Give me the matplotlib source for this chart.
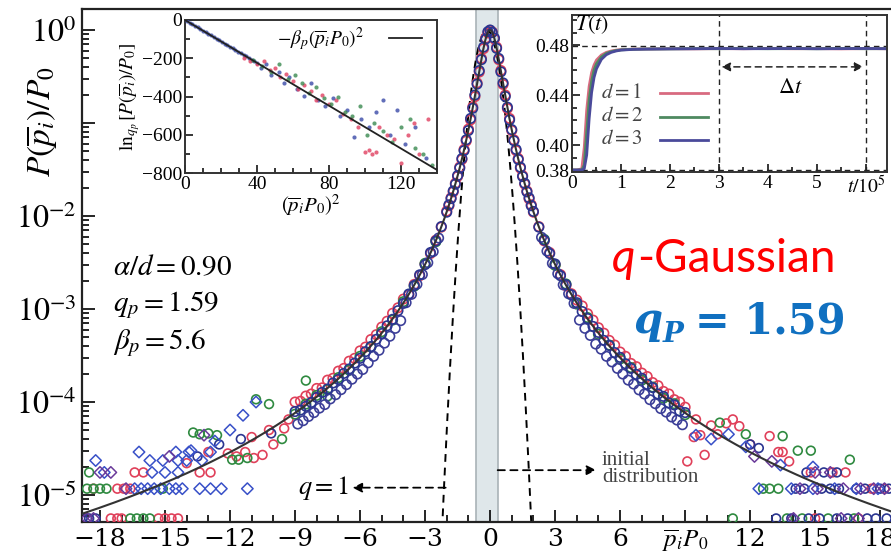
import numpy as np
import matplotlib
matplotlib.use("Agg")
import matplotlib.pyplot as plt
from matplotlib.ticker import FixedLocator, MultipleLocator, NullFormatter, FixedFormatter

plt.rcParams['font.family'] = ['Liberation Serif', 'DejaVu Serif']
plt.rcParams['mathtext.fontset'] = 'stix'

# ---------------- data ----------------
q_p = 1.59
beta_p = 5.6
gauss_beta = 2.9
gauss_center = -0.15
init_lo, init_hi = -0.65, 0.35

core_x = [-9, -8.75, -8.5, -8.25, -8, -7.75, -7.5, -7.25, -7, -6.75, -6.5, -6.25, -6, -5.75,
          -5.5, -5.25, -5, -4.75, -4.5, -4.25, -4, -3.75, -3.5, -3.25, -3, -2.75, -2.5, -2.25,
          -2.0, -1.9, -1.8, -1.7, -1.6, -1.5, -1.4, -1.3, -1.2, -1.1, -1.0, -0.9, -0.8, -0.7,
          -0.6, -0.5, -0.4, -0.3, -0.2, -0.1, 0.0, 0.1, 0.2, 0.3, 0.4, 0.5, 0.6, 0.7, 0.8, 0.9,
          1.0, 1.1, 1.2, 1.3, 1.4, 1.5, 1.6, 1.7, 1.8, 1.9, 2.0,
          2.25, 2.5, 2.75, 3, 3.25, 3.5, 3.75, 4, 4.25, 4.5, 4.75, 5, 5.25, 5.5, 5.75, 6, 6.25,
          6.5, 6.75, 7, 7.25, 7.5, 7.75, 8, 8.25, 8.5, 8.75, 9]

red_core_y = [1.0e-4, 1.02e-4, 1.16e-4, 1.22e-4, 1.40e-4, 1.42e-4, 1.72e-4, 1.8e-4, 2.15e-4, 2.3e-4,
              2.75e-4, 2.95e-4, 3.55e-4, 3.9e-4, 4.7e-4, 5.3e-4, 6.4e-4, 7.4e-4, 9.0e-4, 1.03e-3,
              1.28e-3, 1.42e-3, 1.84e-3, 2.28e-3, 3.05e-3, 3.95e-3, 5.5e-3, 7.6e-3,
              1.13e-2, 1.29e-2, 1.57e-2, 1.82e-2, 2.25e-2, 2.66e-2, 3.36e-2, 4.05e-2, 5.2e-2, 6.4e-2,
              8.6e-2, 0.108, 0.149, 0.192, 0.27, 0.353, 0.495, 0.63, 0.82, 0.93, 0.99, 0.955, 0.80,
              0.655, 0.48, 0.367, 0.26, 0.2, 0.143, 0.112, 8.3e-2, 6.6e-2, 5.05e-2, 4.15e-2, 3.27e-2,
              2.72e-2, 2.2e-2, 1.86e-2, 1.53e-2, 1.32e-2, 1.1e-2,
              7.7e-3, 5.4e-3, 4.05e-3, 2.98e-3, 2.34e-3, 1.78e-3, 1.46e-3, 1.25e-3, 1.08e-3, 8.9e-4,
              7.6e-4, 6.3e-4, 5.5e-4, 4.6e-4, 4.1e-4, 3.45e-4, 3.1e-4, 2.6e-4, 2.4e-4, 2.05e-4,
              1.88e-4, 1.62e-4, 1.5e-4, 1.3e-4, 1.22e-4, 1.06e-4, 1.0e-4, 8.8e-5]

blue_core_y = [7.9e-5, 8.2e-5, 9.0e-5, 9.9e-5, 1.12e-4, 1.27e-4, 1.38e-4, 1.6e-4, 1.75e-4, 2.03e-4,
               2.27e-4, 2.62e-4, 2.95e-4, 3.48e-4, 3.95e-4, 4.72e-4, 5.45e-4, 6.6e-4, 7.75e-4, 9.6e-4,
               1.15e-3, 1.45e-3, 1.79e-3, 2.33e-3, 3.0e-3, 4.05e-3, 5.4e-3, 7.7e-3,
               1.1e-2, 1.32e-2, 1.54e-2, 1.86e-2, 2.2e-2, 2.72e-2, 3.28e-2, 4.15e-2, 5.05e-2, 6.6e-2,
               8.3e-2, 0.112, 0.144, 0.2, 0.262, 0.366, 0.48, 0.655, 0.80, 0.96, 1.0, 0.94, 0.82,
               0.635, 0.495, 0.355, 0.27, 0.193, 0.148, 0.108, 8.5e-2, 6.45e-2, 5.2e-2, 4.05e-2,
               3.35e-2, 2.66e-2, 2.25e-2, 1.82e-2, 1.57e-2, 1.29e-2, 1.12e-2,
               7.6e-3, 5.5e-3, 3.95e-3, 3.05e-3, 2.28e-3, 1.83e-3, 1.42e-3, 1.17e-3, 9.4e-4, 7.9e-4,
               6.5e-4, 5.6e-4, 4.6e-4, 4.05e-4, 3.4e-4, 3.02e-4, 2.58e-4, 2.3e-4, 1.98e-4, 1.8e-4,
               1.55e-4, 1.43e-4, 1.22e-4, 1.15e-4, 9.8e-5, 9.3e-5, 8.0e-5, 7.7e-5]

green_core_x = [-9, -8.5, -8, -7.5, -7, -6.5, -6, -5.5, -5, -4.5, -4, -3.5, -3, -2.5,
                2.5, 3, 3.5, 4, 4.5, 5, 5.5, 6, 6.5, 7, 7.5, 8, 8.5, 9]
green_core_y = [7.4e-5, 9.5e-5, 1.18e-4, 1.36e-4, 1.83e-4, 2.2e-4, 3.1e-4, 3.9e-4, 5.7e-4, 7.6e-4,
                1.2e-3, 1.76e-3, 3.1e-3, 5.3e-3, 5.6e-3, 2.95e-3, 1.86e-3, 1.13e-3, 8.1e-4, 5.35e-4,
                4.1e-4, 2.9e-4, 2.35e-4, 1.72e-4, 1.45e-4, 1.1e-4, 9.6e-5, 7.3e-5]

purple_core_x = [-8.875, -8.625, -8.375, -8.125, -7.875, -7.625, -7.375, -7.125, -6.875, -6.625,
                 -6.375, -6.125, -5.875, -5.625, -5.375, -5.125, -4.875, -4.625, -4.375, -4.125,
                 -3.875, -3.625, -3.375, -3.125, -2.875, -2.625, -2.375,
                 2.375, 2.625, 2.875, 3.125, 3.375, 3.625, 3.875, 4.125, 4.375, 4.625, 4.875, 5.125,
                 5.375, 5.625, 5.875, 6.125, 6.375, 6.625, 6.875, 7.125, 7.375, 7.625, 7.875, 8.125,
                 8.375, 8.625, 8.875]
purple_core_y = [5.8e-5, 6.3e-5, 7.0e-5, 7.7e-5, 8.6e-5, 9.4e-5, 1.08e-4, 1.2e-4, 1.36e-4, 1.54e-4,
                 1.76e-4, 2.0e-4, 2.24e-4, 2.64e-4, 3.1e-4, 3.6e-4, 4.3e-4, 5.1e-4, 6.2e-4, 7.5e-4,
                 1.17e-3, 1.44e-3, 1.85e-3, 2.35e-3, 3.15e-3, 4.15e-3, 5.8e-3,
                 5.9e-3, 4.2e-3, 3.1e-3, 2.4e-3, 1.82e-3, 1.46e-3, 1.15e-3, 7.6e-4, 6.2e-4, 5.2e-4,
                 4.2e-4, 3.7e-4, 3.1e-4, 2.7e-4, 2.3e-4, 2.0e-4, 1.72e-4, 1.56e-4, 1.35e-4, 1.22e-4,
                 1.06e-4, 9.6e-5, 8.5e-5, 7.8e-5, 6.9e-5, 6.4e-5, 5.7e-5]

red_tail_x = [-17.5, -17.2, -17.0, -15.3, -15.0, -14.7, -14.4, -17.2, -16.9, -16.6, -18.3,
              -16.4, -16.0, -13.4, -12.9, -12.1, -11.7, -11.3, -10.9, -10.5, -10.0, -9.5,
              -14.0, -13.0, -11.0, -10.2, -9.3,
              9.1, 9.4, 9.7, 9.9, 10.5, 10.9, 11.2, 11.5, 12.0, 12.9, 13.3, 13.5, 13.8, 14.8,
              15.8, 16.4, 17.6, 18.2, 15.0, 17.0, 9.5, 10.2]
red_tail_y = [5.6e-6, 5.6e-6, 5.6e-6, 5.6e-6, 5.6e-6, 5.6e-6, 5.6e-6, 1.17e-5, 1.17e-5, 1.17e-5, 1.17e-5,
              1.75e-5, 1.75e-5, 1.75e-5, 1.75e-5, 2.8e-5, 2.6e-5, 2.9e-5, 2.5e-5, 2.7e-5, 3.5e-5, 5.2e-5,
              2.2e-5, 2.9e-5, 4.2e-5, 5.0e-5, 6.5e-5,
              2.3e-5, 4.2e-5, 4.4e-5, 2.7e-5, 4.5e-5, 5.9e-5, 6.5e-5, 5.5e-5, 3.5e-5, 4.3e-5, 2.9e-5,
              2.9e-5, 2.3e-5, 1.75e-5, 1.75e-5, 1.75e-5, 1.17e-5, 1.17e-5, 5.6e-6, 5.6e-6, 6.5e-5, 5.6e-5]

green_tail_x = [-16.6, -16.3, -16.0, -15.7, -18.6, -18.3, -18.0, -17.7, -15.1, -18.5,
                -13.7, -13.4, -13.0, -12.6, -11.9, -11.6, -11.2, -10.8, -10.2, -9.6, -8.5, -7.5,
                11.2, 12.6, 12.9, 13.3, 13.5, 14.2, 14.8, 16.6, 13.7, 14.4, 15.6, 16.8, 11.8, 10.6]
green_tail_y = [5.6e-6, 5.6e-6, 5.6e-6, 5.6e-6, 1.17e-5, 1.17e-5, 1.17e-5, 1.17e-5, 1.17e-5, 1.75e-5,
                4.7e-5, 4.5e-5, 4.6e-5, 4.4e-5, 2.4e-5, 2.4e-5, 2.5e-5, 1.07e-4, 9.5e-5, 4.0e-5, 1.7e-4,
                1.15e-4,
                5.6e-6, 1.17e-5, 1.17e-5, 1.17e-5, 4.3e-5, 3.0e-5, 3.0e-5, 2.4e-5, 5.6e-6, 5.6e-6, 5.6e-6,
                5.6e-6, 4.5e-5, 6.0e-5]

blue_tail_x = [-18.8, -18.5, -18.2, -10.1, -12.5, -13.5, -11.5,
               14.1, 14.5, 15.3, 15.7, 16.1, 16.9, 17.3, 18.0, 18.4,
               13.2, 13.9, 14.7, 15.2, 16.0, 16.5, 17.4, 17.8, 18.3, 14.6, 15.4, 16.0, 12.0, 12.4]
blue_tail_y = [5.6e-6, 5.6e-6, 5.6e-6, 4.6e-5, 3.5e-5, 2.6e-5, 4.0e-5,
               1.17e-5, 1.17e-5, 1.17e-5, 1.17e-5, 1.17e-5, 1.17e-5, 1.17e-5, 1.17e-5, 1.17e-5,
               5.6e-6, 5.6e-6, 5.6e-6, 5.6e-6, 5.6e-6, 5.6e-6, 5.6e-6, 5.6e-6, 5.6e-6,
               1.75e-5, 1.75e-5, 1.75e-5, 3.5e-5, 3.2e-5]

bdiam_x = [-16.4, -16.1, -15.8, -15.5, -15.2, -14.8, -14.5, -14.2, -13.4, -12.9, -12.4, -11.2,
           -17.8, -15.6, -15.0, -14.4, -18.2, -15.7, -15.1, -14.4, -14.0, -13.3,
           -16.2, -14.5, -13.9, -12.9, -11.4, -10.8, -12.0, -13.8, -12.7,
           12.4, 13.9, 14.9, 15.9, 16.9, 17.9, 9.5, 10.2, 11.0, 11.8, 13.4, 14.9]
bdiam_y = [1.17e-5, 1.17e-5, 1.17e-5, 1.17e-5, 1.17e-5, 1.17e-5, 1.17e-5, 1.17e-5, 1.17e-5, 1.17e-5,
           1.17e-5, 1.17e-5, 1.75e-5, 1.75e-5, 1.75e-5, 1.75e-5, 2.35e-5, 2.35e-5, 2.35e-5, 2.35e-5,
           2.35e-5, 2.35e-5, 2.9e-5, 2.9e-5, 2.9e-5, 2.9e-5, 7.2e-5, 1.0e-4, 5.0e-5, 3.0e-5, 3.8e-5,
           1.17e-5, 1.17e-5, 1.17e-5, 1.17e-5, 1.17e-5, 1.17e-5, 4.4e-5, 4.0e-5, 4.5e-5, 3.3e-5,
           2.1e-5, 2.0e-5]

pdiam_x = [-18.0, -17.5, -18.6, -18.3, -16.8, -14.8, -13.2,
           14.3, 15.1, 16.3, 17.1, 17.7, 18.2, 14.0, 16.2, 17.0, 15.0, 15.7, 12.2, 13.0]
pdiam_y = [1.75e-5, 1.75e-5, 5.6e-6, 5.6e-6, 1.17e-5, 2.6e-5, 4.4e-5,
           1.17e-5, 1.17e-5, 1.17e-5, 1.17e-5, 1.17e-5, 1.17e-5, 5.6e-6, 5.6e-6, 5.6e-6,
           1.75e-5, 1.75e-5, 2.6e-5, 2.3e-5]

xticks_main = [-18, -15, -12, -9, -6, -3, 0, 3, 6, 9, 12, 15, 18]
xticklabels_main = ['\u221218', '\u221215', '\u221212', '\u22129', '\u22126', '\u22123', '0', '3', '6',
                    r'$\overline{p}_iP_0$', '12', '15', '18']
yticks_main = [1, 1e-1, 1e-2, 1e-3, 1e-4, 1e-5]
yticklabels_main = [r'$10^{0}$', '', r'$10^{-2}$', r'$10^{-3}$', r'$10^{-4}$', r'$10^{-5}$']

# inset 1 data: (p P0)^2 vs ln_q
in_blue_x = [1, 2.5, 4, 5.5, 7, 8.5, 10, 11.5, 13, 14.5, 16, 17.5, 19, 20.5, 22, 23.5, 25, 26.5, 28,
             29.5, 31, 32.5, 34, 35.5, 37, 38.5, 40, 42, 45, 48, 52, 55, 58, 62, 66, 70, 74, 78, 82,
             86, 90, 94, 98, 102, 106, 110, 114, 118, 122, 128, 134]
in_blue_y = [-6, -14, -22, -31, -39, -47, -56, -64, -73, -81, -90, -98, -106, -115, -123, -132, -140,
             -148, -157, -165, -174, -182, -190, -199, -207, -216, -224, -250, -228, -290, -270, -330,
             -300, -360, -395, -330, -420, -450, -410, -500, -470, -610, -520, -560, -480, -420, -600,
             -470, -650, -560, -720]
in_red_x = [33, 36, 40, 44, 47, 50, 53, 56, 60, 63, 66, 70, 73, 76, 80, 84, 88, 92, 96, 100, 102, 104,
            106, 108, 112, 116, 120, 124, 127, 130, 135]
in_red_y = [-200, -215, -230, -215, -260, -250, -300, -280, -320, -360, -340, -370, -420, -390, -440,
            -420, -490, -520, -560, -690, -680, -700, -690, -560, -600, -620, -750, -600, -540, -700, -520]
in_green_x = [38, 43, 48, 52, 57, 61, 65, 69, 73, 77, 81, 85, 89, 93, 97, 101, 105, 110, 115, 120, 125,
              128, 132, 137]
in_green_y = [-210, -240, -270, -230, -310, -290, -330, -380, -350, -410, -440, -400, -480, -500, -450,
              -600, -540, -580, -640, -560, -520, -670, -700, -760]

# inset 2 data: temperature vs time
t_vals = [0, 0.1, 0.2, 0.25, 0.3, 0.35, 0.4, 0.45, 0.5, 0.6, 0.7, 0.8, 0.9, 1.0, 1.25, 1.5, 2.0, 2.5,
          3.0, 3.5, 4.0, 4.5, 5.0, 5.5, 6.0, 6.5]
T_d1 = [0.380, 0.380, 0.381, 0.398, 0.428, 0.447, 0.458, 0.464, 0.468, 0.4720, 0.4741, 0.4752, 0.4759,
        0.4763, 0.4767, 0.4768, 0.4770, 0.4769, 0.4771, 0.4770, 0.4772, 0.4770, 0.4771, 0.4769, 0.4771, 0.4770]
T_d2 = [0.380, 0.380, 0.380, 0.384, 0.410, 0.436, 0.451, 0.460, 0.465, 0.4705, 0.4733, 0.4747, 0.4756,
        0.4761, 0.4766, 0.4768, 0.4769, 0.4771, 0.4770, 0.4772, 0.4770, 0.4771, 0.4770, 0.4772, 0.4770, 0.4771]
T_d3 = [0.380, 0.380, 0.380, 0.381, 0.392, 0.421, 0.442, 0.454, 0.461, 0.4685, 0.4722, 0.4741, 0.4752,
        0.4759, 0.4765, 0.4767, 0.4769, 0.4770, 0.4772, 0.4770, 0.4771, 0.4772, 0.4770, 0.4771, 0.4772, 0.4770]
T_final = 0.4795
T_init = 0.380
dt_start, dt_end = 3.0, 6.0

# ---------------- figure ----------------
RED = '#e0405a'
GREEN = '#2f8a40'
NAVY = '#2a3590'
BLUE = '#3850c8'
PURPLE = '#6a3a9a'
CORE2 = '#3c3f98'

fig = plt.figure(figsize=(8.91, 5.56), dpi=100)
W, H = 891.0, 556.0
ax = fig.add_axes([82 / W, 1 - 522 / H, (891 - 82) / W, (522 - 9) / H])
ax.set_yscale('log')
ax.set_xlim(-18.83, 18.5)
ax.set_ylim(10 ** -5.29, 10 ** 0.226)

ax.axvspan(init_lo, init_hi, facecolor='#dfe7ea', edgecolor='#a9b3b7', lw=1.2, zorder=0)

xx = np.linspace(-18.83, 18.5, 800)
fit = (1 - (1 - q_p) * beta_p * xx ** 2) ** (1 / (1 - q_p))
ax.plot(xx, fit, color='#333333', lw=1.5, zorder=4)
xg = np.linspace(-3, 3, 600)
gau = np.exp(-gauss_beta * (xg - gauss_center) ** 2)
ax.plot(xg, gau, color='black', lw=1.4, ls=(0, (4, 3)), zorder=1)

mk = dict(facecolors='none', linewidths=1.2, zorder=3)
ax.scatter(red_tail_x, red_tail_y, s=40, marker='o', edgecolors=RED, **mk)
ax.scatter(green_tail_x, green_tail_y, s=40, marker='o', edgecolors=GREEN, **mk)
ax.scatter(blue_tail_x, blue_tail_y, s=40, marker='o', edgecolors=NAVY, **mk)
ax.scatter(bdiam_x, bdiam_y, s=34, marker='D', edgecolors=BLUE, **dict(mk, linewidths=1.1))
ax.scatter(pdiam_x, pdiam_y, s=34, marker='D', edgecolors=PURPLE, **dict(mk, linewidths=1.1))
ax.scatter(core_x, red_core_y, s=46, marker='o', edgecolors=RED, **mk)
ax.scatter(green_core_x, green_core_y, s=46, marker='o', edgecolors=GREEN, **mk)
ax.scatter(purple_core_x, purple_core_y, s=46, marker='o', edgecolors=CORE2, **mk)
ax.scatter(core_x, blue_core_y, s=46, marker='o', edgecolors=NAVY, **mk)

ax.xaxis.set_major_locator(FixedLocator(xticks_main))
ax.xaxis.set_major_formatter(FixedFormatter(xticklabels_main))
ax.xaxis.set_minor_locator(MultipleLocator(1))
ax.yaxis.set_major_locator(FixedLocator(yticks_main))
ax.yaxis.set_major_formatter(FixedFormatter(yticklabels_main))
ax.yaxis.set_minor_locator(FixedLocator([m * 10.0 ** e for e in range(-6, 1) for m in range(2, 10)]))
ax.yaxis.set_minor_formatter(NullFormatter())
ax.tick_params(which='both', direction='in', top=False, right=False, width=1.2)
ax.tick_params(which='major', length=9)
ax.tick_params(which='minor', length=5)
ax.tick_params(axis='x', labelsize=18, pad=4)
ax.tick_params(axis='y', labelsize=23, pad=4)
for lab in ax.get_xticklabels():
    lab.set_fontfamily(['DejaVu Serif'])
for s in ['left', 'bottom', 'top']:
    ax.spines[s].set_linewidth(1.6)
    ax.spines[s].set_color('#222222')
ax.spines['right'].set_visible(False)

fig.text(42 / W, 1 - 122 / H, r'$P(\overline{p}_i)/P_0$', rotation=90, ha='center', va='center',
         fontsize=24)

# parameter texts
fig.text(113 / W, 1 - 268 / H, r'$\alpha/d = 0.90$', fontsize=21, va='center')
fig.text(113 / W, 1 - 305 / H, r'$q_p = 1.59$', fontsize=21, va='center')
fig.text(113 / W, 1 - 343 / H, r'$\beta_p = 5.6$', fontsize=21, va='center')

# arrows / annotations
ax.annotate('', xy=(-6.35, 1.2e-5), xytext=(-2.05, 1.2e-5),
            arrowprops=dict(arrowstyle='-|>', color='black', lw=1.3, ls=(0, (4, 3)),
                            mutation_scale=14, shrinkA=0, shrinkB=0), zorder=5)
ax.text(-6.5, 1.2e-5, r'$q = 1$', fontsize=19, ha='right', va='center')
ax.annotate('', xy=(4.9, 1.85e-5), xytext=(0.35, 1.85e-5),
            arrowprops=dict(arrowstyle='-|>', color='black', lw=1.3, ls=(0, (4, 3)),
                            mutation_scale=14, shrinkA=0, shrinkB=0), zorder=5)
fig.text(602 / W, 1 - 469 / H, 'initial\ndistribution', fontsize=15, color='#444444', va='center',
         linespacing=0.9)

# q-Gaussian caption
fig.canvas.draw()
r = fig.canvas.get_renderer()
t1 = fig.text(612 / W, 1 - 272 / H, 'q', fontfamily='Lato', style='italic', fontsize=33, color='#ff0000')
bb = t1.get_window_extent(renderer=r)
fig.text(bb.x1 / W + 0.002, 1 - 272 / H, '-Gaussian', fontfamily='Lato', fontsize=33, color='#ff0000')
qb = '#1070c0'
t2 = fig.text(634 / W, 1 - 333 / H, 'q', fontfamily='DejaVu Serif', style='italic', weight='bold',
              fontsize=30, color=qb)
bb = t2.get_window_extent(renderer=r)
t3 = fig.text(bb.x1 / W, 1 - 342 / H, 'P', fontfamily='DejaVu Serif', style='italic', weight='bold',
              fontsize=20, color=qb)
bb = t3.get_window_extent(renderer=r)
fig.text(bb.x1 / W + 0.012, 1 - 333 / H, '= 1.59', fontfamily='DejaVu Serif', weight='bold',
         fontsize=30, color=qb)

# ---------------- inset 1 ----------------
ax1 = fig.add_axes([185 / W, 1 - 173 / H, 252 / W, 153 / H])
ax1.set_xlim(0, 140)
ax1.set_ylim(-800, 0)
ax1.scatter(in_blue_x, in_blue_y, s=9, color='#3a4aa8', alpha=0.8, lw=0, zorder=3)
ax1.scatter(in_red_x, in_red_y, s=9, color='#e04060', alpha=0.8, lw=0, zorder=3)
ax1.scatter(in_green_x, in_green_y, s=9, color='#3a8a50', alpha=0.8, lw=0, zorder=3)
xl = np.array([0, 140])
ax1.plot(xl, -beta_p * xl, color='#222222', lw=1.3, zorder=4)
ax1.xaxis.set_major_locator(FixedLocator([0, 40, 80, 120]))
ax1.xaxis.set_minor_locator(MultipleLocator(10))
ax1.yaxis.set_major_locator(FixedLocator([0, -200, -400, -600, -800]))
ax1.yaxis.set_minor_locator(MultipleLocator(100))
ax1.set_yticklabels(['0', '\u2212200', '\u2212400', '\u2212600', '\u2212800'])
ax1.tick_params(which='both', direction='in', labelsize=14, pad=2, width=1.1)
ax1.tick_params(which='major', length=6)
ax1.tick_params(which='minor', length=3.5)
for s in ax1.spines.values():
    s.set_linewidth(1.4)
    s.set_color('#333333')
ax1.set_ylabel(r'$\ln_{q_p}[P(\overline{p}_i)/P_0]$', fontsize=14, labelpad=0)
ax1.set_xlabel(r'$(\overline{p}_iP_0)^2$', fontsize=15, labelpad=0)
ax1.text(0.71, 0.875, r'$-\beta_p(\overline{p}_iP_0)^2$', transform=ax1.transAxes, ha='right',
         va='center', fontsize=14)
ax1.plot([0.81, 0.94], [0.885, 0.885], transform=ax1.transAxes, color='#222222', lw=1.3)

# ---------------- inset 2 ----------------
ax2 = fig.add_axes([572 / W, 1 - 172 / H, 315 / W, 157 / H])
ax2.set_xlim(0, 6.43)
ax2.set_ylim(0.3784, 0.504)
ax2.axhline(T_init, color='#222222', lw=1.0, ls=(0, (4, 3)))
ax2.axhline(T_final, color='#222222', lw=1.0, ls=(0, (4, 3)))
ax2.axvline(dt_start, color='#222222', lw=1.0, ls=(0, (4, 3)))
ax2.axvline(dt_end, color='#222222', lw=1.0, ls=(0, (4, 3)))
ax2.plot(t_vals, T_d1, color='#d86a80', lw=2.0)
ax2.plot(t_vals, T_d2, color='#4e8a60', lw=2.0)
ax2.plot(t_vals, T_d3, color='#4a4a9a', lw=2.0)
ax2.annotate('', xy=(dt_end - 0.05, 0.4625), xytext=(dt_start + 0.05, 0.4625),
             arrowprops=dict(arrowstyle='<|-|>', color='#222222', lw=1.1, ls=(0, (4, 3)),
                             mutation_scale=13, shrinkA=0, shrinkB=0))
ax2.text(4.45, 0.4455, r'$\Delta t$', fontsize=16, ha='center', va='center')
ax2.text(0.06, 0.496, r'$T(t)$', fontsize=16, ha='left', va='center')
leg_y = [0.4416, 0.4228, 0.4042]
leg_c = ['#d86a80', '#4e8a60', '#4a4a9a']
for i, (yy, cc) in enumerate(zip(leg_y, leg_c)):
    ax2.text(0.6, yy, r'$d = %d$' % (i + 1), fontsize=15, va='center', color='#444444')
    ax2.plot([1.8, 2.78], [yy, yy], color=cc, lw=2.0)
ax2.xaxis.set_major_locator(FixedLocator([0, 1, 2, 3, 4, 5, 6]))
ax2.set_xticklabels(['0', '1', '2', '3', '4', '5', r'$t/10^5$'])
ax2.xaxis.set_minor_locator(MultipleLocator(0.5))
ax2.yaxis.set_major_locator(FixedLocator([0.38, 0.40, 0.44, 0.48]))
ax2.set_yticklabels(['0.38', '0.40', '0.44', '0.48'])
ax2.yaxis.set_minor_locator(MultipleLocator(0.01))
ax2.tick_params(which='both', direction='in', labelsize=14, pad=2, width=1.1)
ax2.tick_params(which='major', length=6)
ax2.tick_params(which='minor', length=3.5)
for s in ax2.spines.values():
    s.set_linewidth(1.4)
    s.set_color('#333333')

fig.savefig('out.png', dpi=100)
